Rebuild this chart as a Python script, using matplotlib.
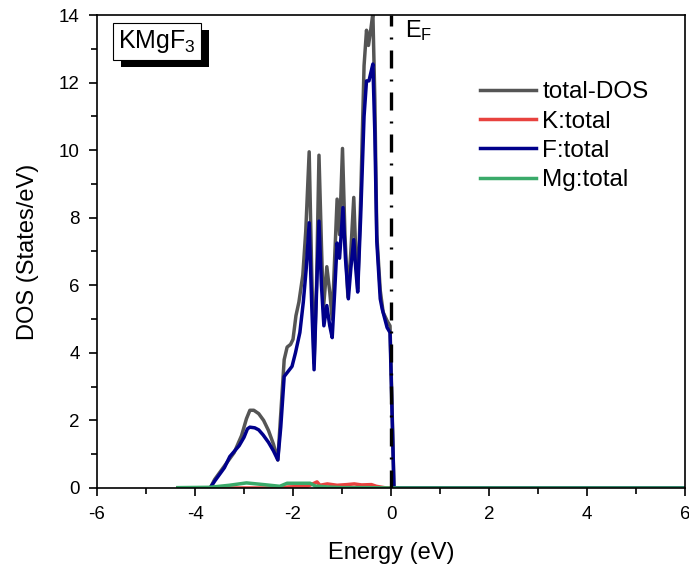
import matplotlib
matplotlib.use("Agg")
import matplotlib.pyplot as plt
from matplotlib.ticker import MultipleLocator
from matplotlib.patches import Rectangle

plt.rcParams['font.family'] = ['Liberation Sans', 'DejaVu Sans']
plt.rcParams['mathtext.fontset'] = 'custom'
plt.rcParams['mathtext.rm'] = 'Liberation Sans'
plt.rcParams['mathtext.it'] = 'Liberation Sans'
plt.rcParams['axes.unicode_minus'] = False

# total DOS
e_tot = [-4.35, -3.69, -3.6, -3.4, -3.2, -3.05, -2.95, -2.88, -2.8, -2.7, -2.6, -2.5, -2.4, -2.31,
         -2.25, -2.18, -2.12, -2.05, -2.0, -1.94, -1.88, -1.80, -1.74, -1.67, -1.62, -1.57, -1.52,
         -1.47, -1.42, -1.38, -1.31, -1.25, -1.20, -1.15, -1.10, -1.05, -0.99, -0.94, -0.88, -0.82,
         -0.76, -0.72, -0.68, -0.62, -0.55, -0.50, -0.46, -0.41, -0.37, -0.33, -0.29, -0.22, -0.16,
         -0.08, -0.02, 0.02, 0.06, 6.0]
dos_tot = [0.0, 0.0, 0.25, 0.65, 1.05, 1.55, 2.05, 2.3, 2.3, 2.2, 2.0, 1.7, 1.3, 0.83,
           2.2, 3.8, 4.17, 4.25, 4.4, 5.1, 5.5, 6.3, 7.6, 9.95, 6.5, 3.7, 6.0,
           9.85, 7.2, 5.3, 6.55, 5.8, 5.0, 6.8, 8.55, 7.5, 10.05, 7.5, 5.65, 7.0,
           8.6, 7.0, 5.9, 8.5, 12.5, 13.55, 13.1, 13.6, 14.05, 11.5, 7.5, 5.85, 5.2,
           4.95, 4.8, 2.5, 0.0, 0.0]

# F partial DOS
e_f = [-3.69, -3.6, -3.4, -3.29, -3.1, -3.0, -2.93, -2.88, -2.78, -2.7, -2.61, -2.5, -2.4, -2.31,
       -2.25, -2.18, -2.10, -2.02, -1.95, -1.86, -1.79, -1.73, -1.67, -1.62, -1.57, -1.52, -1.47,
       -1.42, -1.37, -1.31, -1.25, -1.20, -1.15, -1.10, -1.05, -0.98, -0.93, -0.87, -0.82, -0.76,
       -0.72, -0.68, -0.62, -0.55, -0.50, -0.45, -0.41, -0.37, -0.33, -0.29, -0.22, -0.18, -0.08,
       -0.02, 0.02, 0.06, 6.0]
dos_f = [0.0, 0.2, 0.6, 0.93, 1.25, 1.5, 1.75, 1.8, 1.78, 1.72, 1.57, 1.35, 1.1, 0.83,
         1.8, 3.3, 3.45, 3.6, 4.0, 4.6, 5.5, 6.5, 7.85, 5.5, 3.5, 5.8, 7.9,
         6.0, 4.8, 5.4, 4.8, 4.45, 5.8, 7.25, 6.8, 8.3, 6.8, 5.6, 6.5, 7.35,
         6.5, 5.8, 8.0, 11.0, 12.05, 12.05, 12.3, 12.55, 10.5, 7.3, 5.6, 5.3, 4.75,
         4.6, 2.3, 0.0, 0.0]

# K partial DOS
e_k = [-4.35, -2.3, -2.1, -1.7, -1.51, -1.45, -1.3, -1.1, -0.9, -0.75, -0.6, -0.4, -0.3, -0.1, 6.0]
dos_k = [0.0, 0.0, 0.03, 0.05, 0.18, 0.08, 0.12, 0.08, 0.1, 0.12, 0.09, 0.1, 0.05, 0.0, 0.0]

# Mg partial DOS
e_mg = [-4.35, -3.7, -3.3, -2.95, -2.6, -2.27, -2.12, -1.65, -1.55, -1.3, -1.0, -0.5, 0.0, 6.0]
dos_mg = [0.01, 0.02, 0.08, 0.15, 0.1, 0.05, 0.14, 0.14, 0.06, 0.03, 0.01, 0.01, 0.0, 0.0]

fig = plt.figure(figsize=(6.89, 5.69), dpi=100)
ax = fig.add_axes([0.1408, 0.1424, 0.8534, 0.8312])

lw = 2.5
ax.plot(e_tot, dos_tot, color="#555555", lw=lw, label="total-DOS")
ax.plot(e_k, dos_k, color="#e8423e", lw=lw, label="K:total")
ax.plot(e_f, dos_f, color="#00008b", lw=lw, label="F:total")
ax.plot(e_mg, dos_mg, color="#3aaa6a", lw=lw, label="Mg:total")

# Fermi level
ax.plot([0, 0], [0, 14], color="black", lw=2.4, dashes=[5.4, 3.3, 0.6, 3.3])
ax.text(0.28, 13.35, r"E$_\mathregular{F}$", fontsize=17)

ax.set_xlim(-6, 6)
ax.set_ylim(0, 14)
ax.xaxis.set_major_locator(MultipleLocator(2))
ax.xaxis.set_minor_locator(MultipleLocator(1))
ax.yaxis.set_major_locator(MultipleLocator(2))
ax.yaxis.set_minor_locator(MultipleLocator(1))
ax.tick_params(which="both", direction="out", width=1.2, labelsize=13.5)
ax.tick_params(axis="x", which="major", length=6, pad=7)
ax.tick_params(axis="y", which="major", length=6, pad=6.5)
ax.tick_params(which="minor", length=4)
for s in ax.spines.values():
    s.set_linewidth(1.2)

ax.set_xlabel("Energy (eV)", fontsize=17, labelpad=14)
ax.set_ylabel("DOS (States/eV)", fontsize=17, labelpad=14)

# label box, with a black drop shadow behind it
lbl = ax.text(0.036, 0.944, r"KMgF$_3$", transform=ax.transAxes, fontsize=18, va="center",
              zorder=5, bbox=dict(boxstyle="square,pad=0.2", fc="white", ec="black", lw=0.8))

ax.legend(loc="upper left", bbox_to_anchor=(0.652, 0.86), frameon=False, fontsize=17.5,
          handlelength=2.3, handletextpad=0.25, labelspacing=0.3, borderpad=0, borderaxespad=0)

fig.canvas.draw()
bb = lbl.get_bbox_patch().get_window_extent()
inv = ax.transAxes.inverted()
(x0, y0), (x1, y1) = inv.transform([[bb.x0 + 8, bb.y0 - 7], [bb.x1 + 8, bb.y1 - 7]])
ax.add_patch(Rectangle((x0, y0), x1 - x0, y1 - y0, transform=ax.transAxes,
                       fc="black", ec="none", zorder=4))

fig.savefig("out.png", dpi=100)
